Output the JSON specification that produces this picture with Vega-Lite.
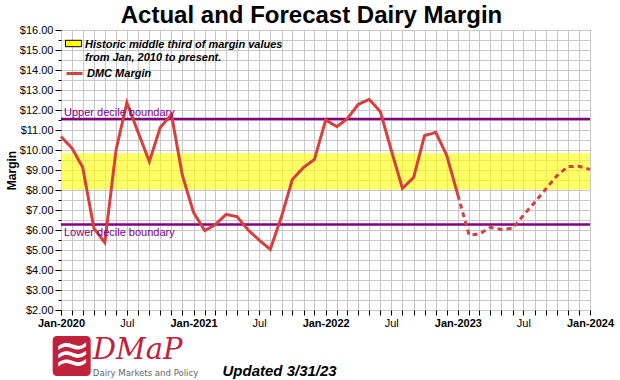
{
  "$schema": "https://vega.github.io/schema/vega-lite/v6.json",
  "width": 529,
  "height": 280,
  "autosize": {"type": "none"},
  "padding": {"left": 61, "top": 30, "right": 30, "bottom": 70},
  "background": "white",
  "config": {
    "font": "Liberation Sans",
    "view": {"stroke": "black", "strokeWidth": 1}
  },
  "title": {
    "text": "Actual and Forecast Dairy Margin",
    "fontSize": 24,
    "font": "Liberation Sans",
    "fontWeight": "bold",
    "color": "black",
    "anchor": "middle",
    "frame": "group",
    "dx": -14,
    "offset": -4
  },
  "datasets": {
    "margin": [
      {"date": "2020-01-01", "margin": 10.67, "type": "Actual"},
      {"date": "2020-02-01", "margin": 10.08, "type": "Actual"},
      {"date": "2020-03-01", "margin": 9.13, "type": "Actual"},
      {"date": "2020-04-01", "margin": 6.08, "type": "Actual"},
      {"date": "2020-05-01", "margin": 5.37, "type": "Actual"},
      {"date": "2020-06-01", "margin": 10.0, "type": "Actual"},
      {"date": "2020-07-01", "margin": 12.37, "type": "Actual"},
      {"date": "2020-08-01", "margin": 10.88, "type": "Actual"},
      {"date": "2020-09-01", "margin": 9.42, "type": "Actual"},
      {"date": "2020-10-01", "margin": 11.12, "type": "Actual"},
      {"date": "2020-11-01", "margin": 11.78, "type": "Actual"},
      {"date": "2020-12-01", "margin": 8.75, "type": "Actual"},
      {"date": "2021-01-01", "margin": 6.88, "type": "Actual"},
      {"date": "2021-02-01", "margin": 5.97, "type": "Actual"},
      {"date": "2021-03-01", "margin": 6.25, "type": "Actual"},
      {"date": "2021-04-01", "margin": 6.78, "type": "Actual"},
      {"date": "2021-05-01", "margin": 6.67, "type": "Actual"},
      {"date": "2021-06-01", "margin": 6.0, "type": "Actual"},
      {"date": "2021-07-01", "margin": 5.5, "type": "Actual"},
      {"date": "2021-08-01", "margin": 5.03, "type": "Actual"},
      {"date": "2021-09-01", "margin": 6.67, "type": "Actual"},
      {"date": "2021-10-01", "margin": 8.53, "type": "Actual"},
      {"date": "2021-11-01", "margin": 9.13, "type": "Actual"},
      {"date": "2021-12-01", "margin": 9.53, "type": "Actual"},
      {"date": "2022-01-01", "margin": 11.5, "type": "Actual"},
      {"date": "2022-02-01", "margin": 11.17, "type": "Actual"},
      {"date": "2022-03-01", "margin": 11.55, "type": "Actual"},
      {"date": "2022-04-01", "margin": 12.28, "type": "Actual"},
      {"date": "2022-05-01", "margin": 12.53, "type": "Actual"},
      {"date": "2022-06-01", "margin": 11.92, "type": "Actual"},
      {"date": "2022-07-01", "margin": 10.0, "type": "Actual"},
      {"date": "2022-08-01", "margin": 8.08, "type": "Actual"},
      {"date": "2022-09-01", "margin": 8.63, "type": "Actual"},
      {"date": "2022-10-01", "margin": 10.72, "type": "Actual"},
      {"date": "2022-11-01", "margin": 10.88, "type": "Actual"},
      {"date": "2022-12-01", "margin": 9.75, "type": "Actual"},
      {"date": "2023-01-01", "margin": 7.75, "type": "Actual"},
      {"date": "2023-01-01", "margin": 7.75, "type": "Forecast"},
      {"date": "2023-02-01", "margin": 5.75, "type": "Forecast"},
      {"date": "2023-03-01", "margin": 5.8, "type": "Forecast"},
      {"date": "2023-04-01", "margin": 6.13, "type": "Forecast"},
      {"date": "2023-05-01", "margin": 6.03, "type": "Forecast"},
      {"date": "2023-06-01", "margin": 6.08, "type": "Forecast"},
      {"date": "2023-07-01", "margin": 6.73, "type": "Forecast"},
      {"date": "2023-08-01", "margin": 7.38, "type": "Forecast"},
      {"date": "2023-09-01", "margin": 8.05, "type": "Forecast"},
      {"date": "2023-10-01", "margin": 8.7, "type": "Forecast"},
      {"date": "2023-11-01", "margin": 9.17, "type": "Forecast"},
      {"date": "2023-12-01", "margin": 9.19, "type": "Forecast"},
      {"date": "2024-01-01", "margin": 9.03, "type": "Forecast"}
    ],
    "middle": [
      {"label": "Historic middle third", "low": 8.03, "high": 9.84}
    ],
    "deciles": [
      {"label": "Upper decile boundary", "value": 11.55},
      {"label": "Lower decile boundary", "value": 6.27}
    ]
  },
  "layer": [
    {
      "data": {"name": "middle"},
      "mark": {"type": "rect", "fillOpacity": 0.6},
      "encoding": {
        "y": {"field": "low", "type": "quantitative"},
        "y2": {"field": "high"},
        "fill": {
          "field": "label",
          "type": "nominal",
          "scale": {"range": ["#ffff00"]},
          "legend": {
            "orient": "none",
            "legendX": 4,
            "legendY": 9,
            "title": null,
            "padding": 0,
            "symbolType": "M-1,-0.9L1,-0.9L1,-0.1L-1,-0.1Z",
            "symbolSize": 256,
            "symbolStrokeColor": "black",
            "symbolStrokeWidth": 1,
            "labelExpr": "['Historic middle third of margin values', 'from Jan, 2010 to present.']",
            "labelFontSize": 11,
            "labelFontStyle": "italic",
            "labelFontWeight": "bold",
            "labelColor": "black",
            "labelBaseline": "alphabetic",
            "labelLineHeight": 11,
            "labelLimit": 0,
            "labelOffset": 3
          }
        }
      }
    },
    {
      "data": {"name": "deciles"},
      "mark": {"type": "rule", "color": "#800080", "strokeWidth": 2.5},
      "encoding": {
        "y": {"field": "value", "type": "quantitative"}
      }
    },
    {
      "data": {"name": "margin"},
      "mark": {"type": "line", "strokeWidth": 3},
      "encoding": {
        "x": {
          "field": "date",
          "type": "temporal",
          "scale": {
            "type": "utc",
            "domain": [
              {"year": 2020, "month": 1, "date": 1, "utc": true},
              {"year": 2024, "month": 1, "date": 1, "utc": true}
            ],
            "nice": false
          },
          "axis": {
            "title": "Updated 3/31/23",
            "titleFontSize": 15,
            "titleFontStyle": "italic",
            "titleFontWeight": "bold",
            "titleColor": "black",
            "titleX": 161,
            "titleY": 65,
            "titleAlign": "left",
            "titleBaseline": "alphabetic",
            "tickCount": {"interval": "month", "step": 1},
            "grid": true,
            "gridColor": "#c8c8c8",
            "gridWidth": 1,
            "domain": false,
            "tickColor": "black",
            "tickSize": 5,
            "labelExpr": "utcmonth(datum.value) == 0 ? utcFormat(datum.value, '%b-%Y') : (utcmonth(datum.value) == 6 ? 'Jul' : '')",
            "labelFontWeight": {"condition": {"test": "utcmonth(datum.value) == 0", "value": "bold"}, "value": "normal"},
            "labelFontSize": 11,
            "labelColor": "black",
            "labelPadding": 2,
            "labelFlush": false,
            "labelOverlap": false,
            "labelBound": false
          }
        },
        "y": {
          "field": "margin",
          "type": "quantitative",
          "scale": {"domain": [2, 16], "nice": false, "zero": false},
          "axis": {
            "title": "Margin",
            "titleFontSize": 12,
            "titleFontWeight": "bold",
            "titleColor": "black",
            "titleX": -50,
            "titleY": 140,
            "titleAngle": -90,
            "titleAlign": "center",
            "titleBaseline": "middle",
            "tickCount": 28,
            "labelExpr": "datum.value % 1 == 0 ? format(datum.value, '$.2f') : ''",
            "tickSize": {"condition": {"test": "datum.value % 1 != 0", "value": 3}, "value": 6},
            "tickColor": "black",
            "grid": true,
            "gridColor": "#c8c8c8",
            "gridWidth": 1,
            "domain": false,
            "labelFontSize": 11,
            "labelColor": "black",
            "labelPadding": 2,
            "labelOverlap": false,
            "labelBound": false,
            "labelFlush": false
          }
        },
        "stroke": {
          "datum": "DMC Margin",
          "scale": {"range": ["#d6403f"]},
          "legend": {
            "orient": "none",
            "legendX": 4,
            "legendY": 34,
            "title": null,
            "padding": 0,
            "symbolType": "stroke",
            "symbolSize": 256,
            "symbolStrokeWidth": 3,
            "labelFontSize": 11,
            "labelFontStyle": "italic",
            "labelFontWeight": "bold",
            "labelColor": "black",
            "labelOffset": 3
          }
        },
        "strokeDash": {
          "field": "type",
          "type": "nominal",
          "scale": {"domain": ["Actual", "Forecast"], "range": [[1, 0], [5, 4]]},
          "legend": null
        }
      }
    },
    {
      "data": {"name": "deciles"},
      "transform": [{"filter": "datum.label == 'Upper decile boundary'"}],
      "mark": {"type": "text", "color": "#800080", "fontSize": 11, "align": "left", "baseline": "alphabetic", "dx": 3, "dy": -3},
      "encoding": {
        "x": {"datum": {"year": 2020, "month": 1, "date": 1}, "type": "temporal"},
        "y": {"field": "value", "type": "quantitative"},
        "text": {"field": "label"}
      }
    },
    {
      "data": {"name": "deciles"},
      "transform": [{"filter": "datum.label == 'Lower decile boundary'"}],
      "mark": {"type": "text", "color": "#800080", "fontSize": 11, "align": "left", "baseline": "alphabetic", "dx": 3, "dy": 11},
      "encoding": {
        "x": {"datum": {"year": 2020, "month": 1, "date": 1}, "type": "temporal"},
        "y": {"field": "value", "type": "quantitative"},
        "text": {"field": "label"}
      }
    },
    {
      "data": {"values": [{}]},
      "mark": {"type": "rect", "fill": "#c0223b", "cornerRadius": 4},
      "encoding": {
        "x": {"datum": {"year": 2019, "month": 12, "date": 9}, "type": "temporal"},
        "x2": {"datum": {"year": 2020, "month": 3, "date": 23}},
        "y": {"datum": 0.7, "type": "quantitative"},
        "y2": {"datum": -1.3}
      }
    },
    {
      "data": {"values": [{"t": "≋"}]},
      "mark": {"type": "text", "color": "white", "fontSize": 44, "font": "DejaVu Sans", "align": "center", "baseline": "middle"},
      "encoding": {
        "x": {"datum": {"year": 2020, "month": 2, "date": 1}, "type": "temporal"},
        "y": {"datum": -0.3, "type": "quantitative"},
        "text": {"field": "t"}
      }
    },
    {
      "data": {"values": [{"t": "DMaP"}]},
      "mark": {"type": "text", "color": "#c0223b", "fontSize": 29, "font": "DejaVu Serif", "fontStyle": "italic", "align": "left", "baseline": "alphabetic"},
      "encoding": {
        "x": {"datum": {"year": 2020, "month": 3, "date": 29}, "type": "temporal"},
        "y": {"datum": -0.45, "type": "quantitative"},
        "text": {"field": "t"}
      }
    },
    {
      "data": {"values": [{"t": "Dairy Markets and Policy"}]},
      "mark": {"type": "text", "color": "#666666", "fontSize": 9.5, "font": "Liberation Sans Narrow, DejaVu Sans Condensed", "fontWeight": "normal", "align": "left", "baseline": "alphabetic"},
      "encoding": {
        "x": {"datum": {"year": 2020, "month": 3, "date": 29}, "type": "temporal"},
        "y": {"datum": -1.3, "type": "quantitative"},
        "text": {"field": "t"}
      }
    }
  ]
}
